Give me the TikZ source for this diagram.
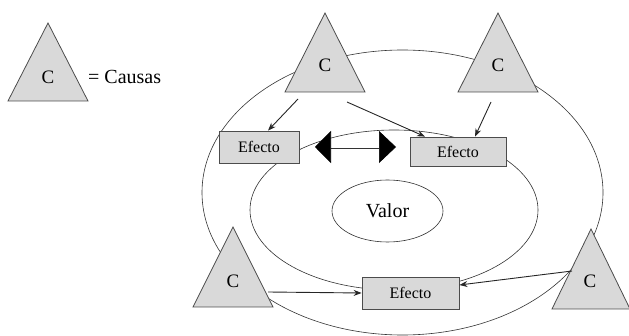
\documentclass[tikz,border=0pt]{standalone}
\usepackage{fontspec}
\setmainfont{Liberation Serif}
\usetikzlibrary{arrows.meta,shapes.geometric}
\begin{document}
\begin{tikzpicture}[x=1pt,y=-1pt,
  cause/.style={draw=black!70,fill=black!15,line width=0.8pt},
  effbox/.style={draw=black!70,fill=black!15,line width=0.8pt,inner sep=0pt,
    font=\fontsize{16}{17}\selectfont},
  ring/.style={draw=black!80,line width=0.6pt},
  link/.style={draw=black!85,line width=0.9pt,-{Stealth[length=8pt,width=6pt]}},
  letter/.style={font=\fontsize{19}{20}\selectfont},
  lbl/.style={font=\fontsize{20}{21}\selectfont}]
\useasboundingbox (0,0) rectangle (629,336);

% concentric rings
\draw[ring] (402.5,192.5) ellipse [x radius=200.5, y radius=142.5];
\draw[ring] (394,210) ellipse [x radius=144, y radius=80];
\draw[ring] (387.5,211) ellipse [x radius=55.5, y radius=31];
\node[lbl] (valor) at (387.5,211) {Valor};

% legend
\draw[cause] (48,23) -- (88,101) -- (8,101) -- cycle;
\node[letter] (legc) at (48,77) {C};
\node[lbl,anchor=west,inner sep=0pt] (legtxt) at (88,77) {= Causas};

% causes
\draw[cause] (325,13) -- (365,92) -- (285,92) -- cycle;
\node[letter] (c1) at (325,65) {C};
\draw[cause] (498,13) -- (538,92) -- (458,92) -- cycle;
\node[letter] (c2) at (498,65) {C};
\draw[cause] (233,227) -- (273,307) -- (193,307) -- cycle;
\node[letter] (c3) at (233,281) {C};
\draw[cause] (591,229) -- (630,309) -- (552,309) -- cycle;
\node[letter] (c4) at (590,281) {C};

% effects
\node[effbox,minimum width=80pt,minimum height=32pt] (e1) at (259,147) {Efecto};
\node[effbox,minimum width=96pt,minimum height=29pt] (e2) at (458,151.5) {Efecto};
\node[effbox,minimum width=97pt,minimum height=32pt] (e3) at (410.5,293) {Efecto};

% cause-effect links
\coordinate (s1) at (298,99);
\coordinate (s2) at (347,102);
\coordinate (s3) at (491,102);
\coordinate (s4) at (268,292);
\coordinate (s5) at (572,271);
\draw[link] (s1) -- (e1.north -| 268,0);
\draw[link] (s2) -- (e2.north -| 425,0);
\draw[link] (s3) -- (e2.north -| 475,0);
\draw[link] (s4) -- (e3.west);
\draw[link] (s5) -- (e3.east |- 0,285);

% two-way exchange
\coordinate (xl) at (315,147);
\coordinate (xr) at (396,147);
\draw[black!80,line width=0.6pt,double distance=3pt,
  {Triangle[length=16pt,width=32pt,color=black,fill=black]}-{Triangle[length=17pt,width=32pt,color=black,fill=black]}] (xl) -- (xr);
\end{tikzpicture}
\end{document}
